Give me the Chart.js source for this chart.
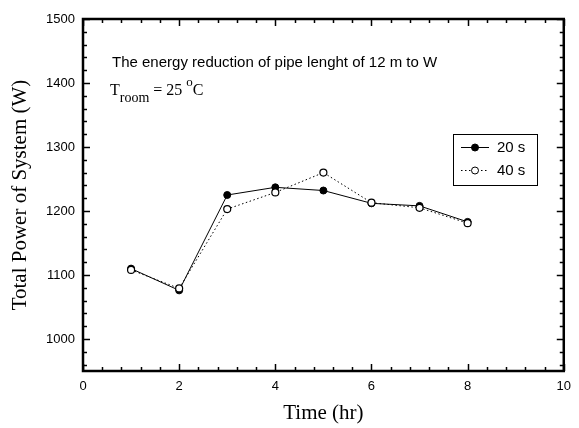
<!DOCTYPE html>
<html><head><meta charset="utf-8">
<script src="https://cdn.jsdelivr.net/npm/chart.js@4/dist/chart.umd.min.js"></script>
<style>html,body{margin:0;padding:0;background:#fff}#w{width:579px;height:428px}</style>
</head><body><div id="w"><canvas id="c" width="579" height="428"></canvas></div>
<script>
const times = [1, 2, 3, 4, 5, 6, 7, 8];
const power20s = [1110, 1076, 1225, 1237, 1232, 1212, 1208, 1183];
const power40s = [1108, 1079, 1203, 1229, 1260, 1213, 1205, 1181];
const xTicks = [0, 2, 4, 6, 8, 10];
const yTicks = [1000, 1100, 1200, 1300, 1400, 1500];
const seriesNames = ['20 s', '40 s'];

const framePlugin = {
  id: 'frame',
  afterDraw(chart) {
    const {ctx, chartArea: a, scales: {x, y}} = chart;
    ctx.save();
    ctx.strokeStyle = '#000';
    ctx.lineWidth = 1.5;
    for (let i = 0; i <= 25; i++) {
      const v = i * 0.4;
      const px = Math.round(x.getPixelForValue(v)) + 0.5;
      const len = (i % 5 === 0) ? 7 : 4;
      ctx.beginPath(); ctx.moveTo(px, a.bottom); ctx.lineTo(px, a.bottom - len); ctx.stroke();
      ctx.beginPath(); ctx.moveTo(px, a.top); ctx.lineTo(px, a.top + len); ctx.stroke();
    }
    for (let v = 960; v <= 1500; v += 20) {
      const py = Math.round(y.getPixelForValue(v)) + 0.5;
      const len = (v % 100 === 0) ? 7 : 4;
      ctx.beginPath(); ctx.moveTo(a.left, py); ctx.lineTo(a.left + len, py); ctx.stroke();
      ctx.beginPath(); ctx.moveTo(a.right, py); ctx.lineTo(a.right - len, py); ctx.stroke();
    }
    ctx.lineWidth = 2.5;
    ctx.strokeRect(a.left, a.top, a.right - a.left, a.bottom - a.top);

    ctx.fillStyle = '#000';
    ctx.textBaseline = 'middle';
    ctx.textAlign = 'left';
    ctx.font = '15px "Liberation Sans", Arial, sans-serif';
    ctx.fillText('The energy reduction of pipe lenght of 12 m to W', 112, 63);
    ctx.textBaseline = 'alphabetic';
    let cx = 110;
    const parts = [
      ['T', '16px "Liberation Serif", serif', 95],
      ['room', '14px "Liberation Serif", serif', 101.5],
      [' = 25 ', '16px "Liberation Serif", serif', 95],
      ['o', '13px "Liberation Serif", serif', 86],
      ['C', '16px "Liberation Serif", serif', 95]
    ];
    for (const [t, f, by] of parts) {
      ctx.font = f;
      ctx.fillText(t, cx, by);
      cx += ctx.measureText(t).width;
    }

    const lx = 453, ly = 134, lw = 84, lh = 51;
    ctx.lineWidth = 1;
    ctx.strokeRect(lx + 0.5, ly + 0.5, lw, lh);
    const rows = [147, 170];
    chart.data.datasets.forEach((ds, i) => {
      const ry = rows[i] + 0.5;
      ctx.beginPath();
      ctx.setLineDash(ds.borderDash || []);
      ctx.lineWidth = 1;
      ctx.moveTo(461, ry); ctx.lineTo(489, ry); ctx.stroke();
      ctx.setLineDash([]);
      ctx.beginPath();
      ctx.arc(475, ry, 3.5, 0, Math.PI * 2);
      ctx.fillStyle = ds.pointBackgroundColor;
      ctx.fill();
      ctx.stroke();
      ctx.fillStyle = '#000';
      ctx.font = '15px "Liberation Sans", Arial, sans-serif';
      ctx.textBaseline = 'middle';
      ctx.fillText(seriesNames[i], 497, ry);
    });
    ctx.restore();
  }
};

new Chart(document.getElementById('c'), {
  type: 'line',
  data: {
    datasets: [
      {
        label: seriesNames[0],
        data: times.map((t, i) => ({x: t, y: power20s[i]})),
        borderColor: '#000', borderWidth: 1,
        pointRadius: 3.5, pointBackgroundColor: '#000', pointBorderColor: '#000', pointBorderWidth: 1,
        tension: 0, order: 1
      },
      {
        label: seriesNames[1],
        data: times.map((t, i) => ({x: t, y: power40s[i]})),
        borderColor: '#000', borderWidth: 1, borderDash: [1.5, 2.5],
        pointRadius: 3.5, pointBackgroundColor: '#fff', pointBorderColor: '#000', pointBorderWidth: 1.2,
        tension: 0, order: 0
      }
    ]
  },
  options: {
    responsive: false, animation: false,
    layout: {padding: {left: 0, top: 19, right: 13, bottom: 0}},
    plugins: {legend: {display: false}, tooltip: {enabled: false}},
    scales: {
      x: {
        type: 'linear', min: 0, max: 10,
        afterBuildTicks: s => { s.ticks = xTicks.map(v => ({value: v})); },
        afterFit: s => { s.height = 57; },
        grid: {display: false, drawTicks: false}, border: {display: false},
        ticks: {color: '#000', padding: 8, font: {family: '"Liberation Sans", Arial, sans-serif', size: 13}, maxRotation: 0,
          callback: v => String(v)},
        title: {display: true, text: 'Time (hr)', color: '#000', padding: {top: 0, bottom: 2.4},
          font: {family: '"Liberation Serif", "Times New Roman", serif', size: 21, weight: 'normal'}}
      },
      y: {
        type: 'linear', min: 950, max: 1500,
        afterBuildTicks: s => { s.ticks = yTicks.map(v => ({value: v})); },
        afterFit: s => { s.width = 83; },
        grid: {display: false, drawTicks: false}, border: {display: false},
        ticks: {color: '#000', padding: 8, font: {family: '"Liberation Sans", Arial, sans-serif', size: 13},
          callback: v => String(v)},
        title: {display: true, text: 'Total Power of System (W)', color: '#000', padding: {top: 7.4, bottom: 0},
          font: {family: '"Liberation Serif", "Times New Roman", serif', size: 21, weight: 'normal'}}
      }
    }
  },
  plugins: [framePlugin]
});
</script></body></html>
